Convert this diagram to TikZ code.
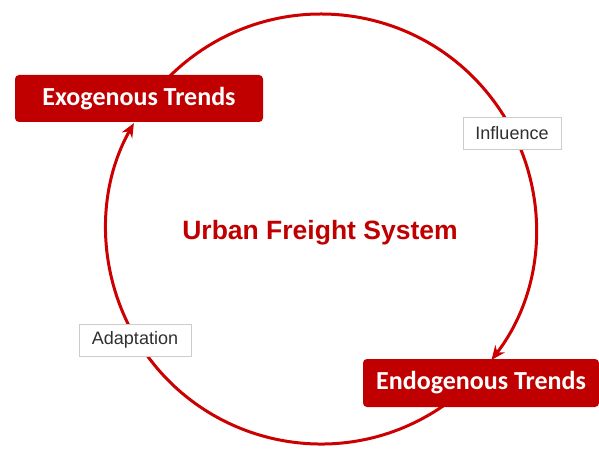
\documentclass[tikz,border=0pt]{standalone}
\usepackage{fontspec}
\setmainfont{Liberation Sans}
\newfontfamily\boxfont{Carlito}
\usetikzlibrary{arrows.meta}
\definecolor{boxred}{HTML}{C00000}
\definecolor{ringred}{HTML}{CC0000}
\definecolor{labgray}{HTML}{CCCCCC}
\definecolor{labtext}{HTML}{303030}
\begin{document}
\begin{tikzpicture}[x=1pt,y=1pt,
  trendbox/.style={fill=boxred, draw=none, rounded corners=4pt, text=white,
    font=\boxfont\bfseries\fontsize{26}{30}\selectfont, inner sep=0pt},
  labelbox/.style={fill=white, draw=labgray, line width=0.8pt, text=labtext,
    font=\fontsize{18}{21}\selectfont, inner sep=0pt},
  ring/.style={draw=ringred, line width=3pt},
  ringarrow/.style={ring, -{Stealth[length=14pt,width=12pt]}}]
\useasboundingbox (0,0) rectangle (599,448);
\coordinate (c) at (321,219);
% ring arcs
\draw[ring] (c) ++(150:215) arc[start angle=150, end angle=128, radius=215];
\draw[ringarrow] (c) ++(128:215) arc[start angle=128, end angle=-37.5, radius=215] coordinate (endtip);
\draw[ring] (c) ++(-37.5:215) arc[start angle=-37.5, end angle=-60, radius=215];
\draw[ringarrow] (c) ++(-60:215) arc[start angle=-60, end angle=-209.5, radius=215] coordinate (exotip);
% boxes
\node[trendbox, minimum width=248pt, minimum height=47pt] (exo) at (139,349.5) {Exogenous Trends};
\node[trendbox, minimum width=236pt, minimum height=48pt] (endo) at (481,65) {Endogenous Trends};
\node[labelbox, minimum width=98pt, minimum height=32pt] (infl) at (512,315) {Influence};
\node[labelbox, minimum width=112pt, minimum height=32pt] (adapt) at (135,108) {Adaptation};
\node[text=boxred, font=\bfseries\fontsize{26.5}{30}\selectfont] (title) at (320,215) {Urban Freight System};
\end{tikzpicture}
\end{document}
